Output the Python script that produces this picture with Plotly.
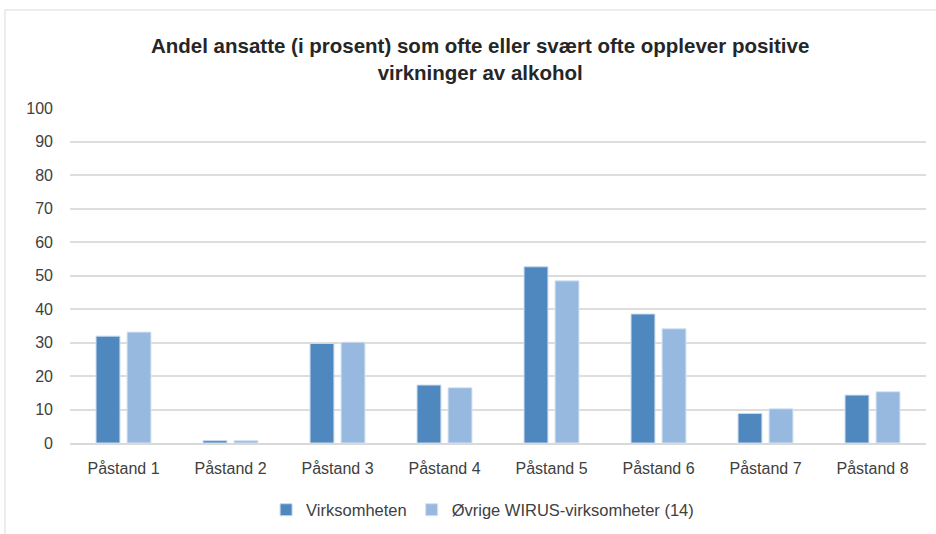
import plotly.graph_objects as go

categories = ["Påstand 1", "Påstand 2", "Påstand 3", "Påstand 4",
              "Påstand 5", "Påstand 6", "Påstand 7", "Påstand 8"]
virksomheten = [31.9, 0.7, 29.7, 17.3, 52.6, 38.5, 8.8, 14.3]
ovrige = [33.1, 0.7, 30.1, 16.5, 48.4, 34.1, 10.2, 15.3]
y_ticks = [0, 10, 20, 30, 40, 50, 60, 70, 80, 90, 100]

FONT = "Liberation Sans Narrow, Liberation Sans, Arial, sans-serif"
TXT = "#404040"

fig = go.Figure()
fig.add_trace(go.Bar(x=categories, y=virksomheten, name="Virksomheten",
                     marker=dict(color="#4F88BE", line=dict(color="#C9DAEE", width=1))))
fig.add_trace(go.Bar(x=categories, y=ovrige, name="Øvrige WIRUS-virksomheter (14)",
                     marker=dict(color="#97B8DF", line=dict(color="#D5E3F3", width=1))))

fig.update_layout(
    width=936, height=534,
    margin=dict(l=70, r=10, t=108, b=91, autoexpand=False),
    paper_bgcolor="white", plot_bgcolor="white",
    barmode="group", bargap=0.42, bargroupgap=0.23,
    font=dict(family=FONT, size=15, color=TXT),
    title=dict(text="<b>Andel ansatte (i prosent) som ofte eller svært ofte opplever positive<br>virkninger av alkohol</b>",
               x=0.513, xref="container", xanchor="center",
               y=0.901, yref="container", yanchor="middle",
               font=dict(family=FONT, size=20.5, color="#262626")),
    xaxis=dict(showgrid=False, showline=True, linecolor="#D9D9D9", linewidth=1.5,
               ticks="", ticklabelstandoff=10, automargin=False,
               tickfont=dict(size=16, color=TXT)),
    yaxis=dict(range=[0, 100], tickvals=y_ticks, showgrid=True, gridcolor="#DDDDDD",
               gridwidth=1.5, zeroline=False, showline=False, ticks="",
               ticklabelstandoff=16, automargin=False,
               tickfont=dict(size=16, color=TXT)),
    legend=dict(orientation="h", x=0.482, xref="paper", xanchor="center",
                y=-0.2, yanchor="middle", font=dict(size=16.5, color=TXT),
                itemwidth=30, traceorder="normal"),
    shapes=[dict(type="rect", xref="paper", yref="paper",
                 x0=-0.076, x1=1.2, y0=-0.5, y1=1.2925,
                 line=dict(color="#D9D9D9", width=1), fillcolor="rgba(0,0,0,0)")],
)

fig.write_html("out.html", config={"displayModeBar": False},
               post_script="document.body.style.margin='0';")
